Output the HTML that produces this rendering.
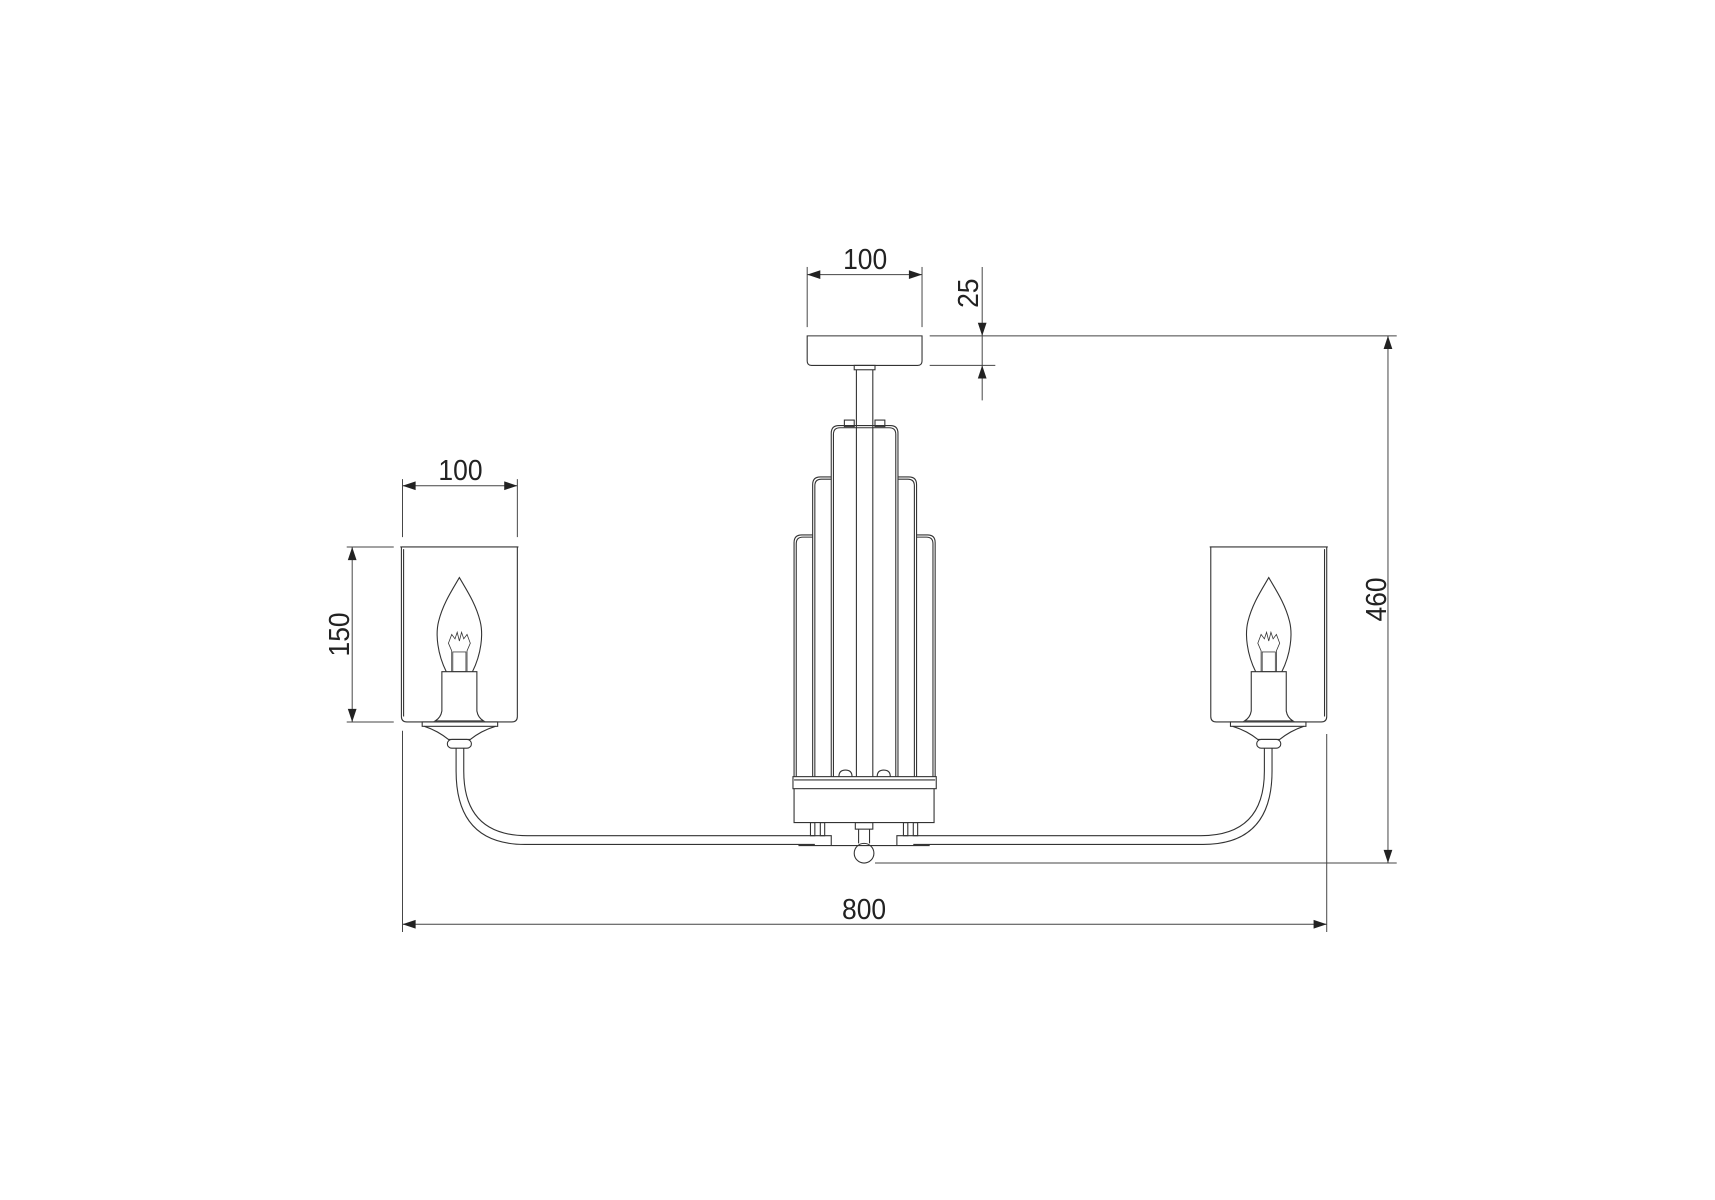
<!DOCTYPE html>
<html><head><meta charset="utf-8"><style>html,body{margin:0;padding:0;background:#fff}svg{display:block}</style></head>
<body>
<svg width="1715" height="1200" viewBox="0 0 1568 1097" xmlns="http://www.w3.org/2000/svg">
<defs>
<g id="lamp" fill="none" stroke="#333" stroke-width="1">
  <path d="M367,500 L367,655 Q367,660 372,660 L468,660 Q473,660 473,655 L473,500"/>
  <line x1="366" y1="500" x2="474" y2="500"/>
  <line x1="369" y1="502" x2="369" y2="655"/>
  <path d="M408,614 C400,598 398,580 401,568 C405,552 413,540 420,528 C427,540 435,552 439,568 C442,580 440,598 432,614"/>
  <path d="M413,614 L413,595 L410,588 L413,580 L416,584 L418,578 L420,586 L422,578 L424,584 L427,580 L430,588 L427,595 L427,614" stroke-width="0.7"/>
  <rect x="414" y="596" width="12" height="18" stroke-width="0.7"/>
  <path d="M404,614 L436,614 L436,650 Q437,656 442,659 L398,659 Q403,656 404,650 Z"/>
  <rect x="386" y="660" width="69" height="4"/>
  <path d="M388,664 Q400,668 410,676 L430,676 Q440,668 453,664"/>
  <rect x="409" y="676" width="22" height="8" rx="4"/>
  <path d="M417,684 L417,705 Q417,772 480,772 L745,772"/>
  <path d="M424,684 L424,705 Q424,764 482,764 L745,764"/>
</g>
</defs>

<use href="#lamp"/>
<use href="#lamp" transform="translate(1580,0) scale(-1,1)"/>

<g fill="none" stroke="#333" stroke-width="1">
  <path d="M738,307 L843,307 L843,330 Q843,334 839,334 L742,334 Q738,334 738,330 Z"/>
  <rect x="781" y="334" width="19" height="4"/>
  <line x1="783" y1="338" x2="783" y2="710"/>
  <line x1="798" y1="338" x2="798" y2="710"/>
  <rect x="772" y="384" width="9" height="6"/><rect x="800" y="384" width="9" height="6"/>
  <path d="M760,710 L760,396 Q760,389 767,389 L814,389 Q821,389 821,396 L821,710"/>
  <path d="M762,710 L762,397 Q762,391 768,391 L813,391 Q819,391 819,397 L819,710"/>
  <path d="M743,710 L743,443 Q743,436 750,436 L760,436 M821,436 L831,436 Q838,436 838,443 L838,710"/>
  <path d="M745,710 L745,444 Q745,438 751,438 L760,438 M821,438 L830,438 Q836,438 836,444 L836,710"/>
  <path d="M726,710 L726,496 Q726,489 733,489 L743,489 M838,489 L848,489 Q855,489 855,496 L855,710"/>
  <path d="M728,710 L728,497 Q728,491 734,491 L743,491 M838,491 L847,491 Q853,491 853,497 L853,710"/>
  <path d="M767,710 Q767,704 773,704 Q779,704 779,710"/>
  <path d="M802,710 Q802,704 808,704 Q814,704 814,710"/>
  <rect x="725" y="710" width="131" height="11"/>
  <line x1="726" y1="713" x2="855" y2="713"/>
  <path d="M726,721 L726,752 L854,752 L854,721"/>
  <rect x="741" y="752" width="4" height="12"/><rect x="750" y="752" width="4" height="12"/>
  <rect x="826" y="752" width="4" height="12"/><rect x="835" y="752" width="4" height="12"/>
  <path d="M745,764 L760,764 L760,773 M835,764 L820,764 L820,773"/>
  <line x1="730" y1="773" x2="850" y2="773"/>
  <rect x="782" y="752" width="16" height="6"/>
  <path d="M785,758 L785,771 M795,758 L795,771"/>
  <circle cx="790" cy="780" r="9"/>
</g>

<g fill="none" stroke="#444" stroke-width="0.9">
  <line x1="738" y1="244" x2="738" y2="299"/><line x1="843" y1="244" x2="843" y2="299"/>
  <line x1="738" y1="251" x2="843" y2="251"/>
  <line x1="898" y1="244" x2="898" y2="366"/>
  <line x1="850" y1="307" x2="1277" y2="307"/>
  <line x1="850" y1="334" x2="910" y2="334"/>
  <line x1="368" y1="438" x2="368" y2="491"/><line x1="473" y1="438" x2="473" y2="491"/>
  <line x1="368" y1="444" x2="473" y2="444"/>
  <line x1="317" y1="500" x2="360" y2="500"/><line x1="317" y1="660" x2="360" y2="660"/>
  <line x1="322" y1="500" x2="322" y2="660"/>
  <line x1="1269" y1="307" x2="1269" y2="789"/>
  <line x1="800" y1="789" x2="1277" y2="789"/>
  <line x1="368" y1="668" x2="368" y2="852"/><line x1="1213" y1="671" x2="1213" y2="852"/>
  <line x1="368" y1="845" x2="1213" y2="845"/>
</g>
<g fill="#222">
  <path d="M738,251 l12,-4 v8 z"/><path d="M843,251 l-12,-4 v8 z"/>
  <path d="M898,307 l-4,-12 h8 z"/><path d="M898,334 l-4,12 h8 z"/>
  <path d="M368,444 l12,-4 v8 z"/><path d="M473,444 l-12,-4 v8 z"/>
  <path d="M322,500 l-4,12 h8 z"/><path d="M322,660 l-4,-12 h8 z"/>
  <path d="M1269,307 l-4,12 h8 z"/><path d="M1269,789 l-4,-12 h8 z"/>
  <path d="M368,845 l12,-4 v8 z"/><path d="M1213,845 l-12,-4 v8 z"/>
</g>
<g font-family="'Liberation Sans', sans-serif" font-size="26" fill="#222" text-anchor="middle">
  <text transform="translate(791,246) scale(0.93,1)">100</text>
  <text transform="translate(421,439) scale(0.93,1)">100</text>
  <text transform="translate(790,840) scale(0.93,1)">800</text>
  <text transform="translate(894,268) rotate(-90) scale(0.93,1)">25</text>
  <text transform="translate(319,580) rotate(-90) scale(0.93,1)">150</text>
  <text transform="translate(1267,548) rotate(-90) scale(0.93,1)">460</text>
</g>
</svg>
</body></html>
